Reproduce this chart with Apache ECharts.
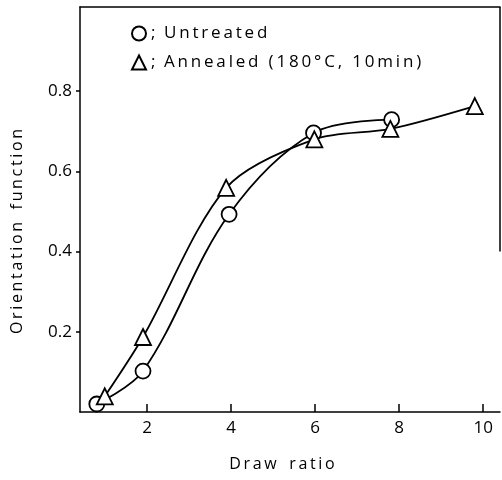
<!DOCTYPE html>
<html><head><meta charset="utf-8">
<script src="https://cdn.jsdelivr.net/npm/echarts@6/dist/echarts.min.js"></script>
<style>html,body{margin:0;padding:0;background:#fff}#c{width:502px;height:480px}</style>
</head><body><div id="c"></div>
<script>
const untreatedX = [0.8, 1.9, 3.95, 5.96, 7.82];
const untreatedY = [0.02, 0.102, 0.493, 0.696, 0.729];
const annealedX = [0.99, 1.9, 3.88, 5.98, 7.79, 9.8];
const annealedY = [0.039, 0.187, 0.559, 0.68, 0.706, 0.763];
const xTicks = [2, 4, 6, 8, 10];
const yTicks = [0.2, 0.4, 0.6, 0.8];
const seriesNames = ['Untreated', 'Annealed (180°C, 10min)'];
const xMin = 0.4, xMax = 10.4, yMin = 0, yMax = 1.01;

const font = '"Open Sans", sans-serif';
const sp = s => s.split('').join('\u2009');
const chart = echarts.init(document.getElementById('c'));
const pts = (xs, ys) => xs.map((x, i) => [x, ys[i]]);
chart.setOption({
  animation: false,
  backgroundColor: '#fff',
  grid: {left: 80, right: 2, top: 7, bottom: 68},
  legend: {
    orient: 'vertical', left: 126, top: 20, itemGap: 12,
    itemWidth: 14, itemHeight: 14,
    data: [{name: seriesNames[0], icon: 'circle'}, {name: seriesNames[1], icon: 'triangle'}],
    formatter: n => ';\u2009\u2009\u2009' + sp(n),
    textStyle: {color: '#000', fontSize: 17, fontFamily: font, padding: [0,0,0,0]}
  },
  xAxis: [{
    type: 'value', min: xMin, max: xMax,
    name: sp('Draw') + '   ' + sp('ratio'), nameLocation: 'middle', nameGap: 44,
    nameTextStyle: {color: '#000', fontSize: 16, fontFamily: font, padding: [0, 16, 0, 0]},
    axisLine: {lineStyle: {color: '#000', width: 1.5}},
    axisTick: {inside: true, length: 8, customValues: xTicks, lineStyle: {color: '#000', width: 1.5}},
    axisLabel: {customValues: xTicks, color: '#000', fontSize: 17, fontFamily: font, margin: 8},
    splitLine: {show: false}
  }, {
    type: 'value', position: 'top', min: xMin, max: xMax,
    axisLine: {show: true, lineStyle: {color: '#000', width: 1.5}},
    axisTick: {show: false}, axisLabel: {show: false}, splitLine: {show: false}
  }],
  yAxis: {
    type: 'value', min: yMin, max: yMax,
    name: sp('Orientation') + '   ' + sp('function'), nameLocation: 'middle', nameGap: 55,
    nameTextStyle: {color: '#000', fontSize: 16, fontFamily: font, padding: [0, 44, 0, 0]},
    axisLine: {lineStyle: {color: '#000', width: 1.5}},
    axisTick: {length: 4, customValues: yTicks, lineStyle: {color: '#000', width: 1.5}},
    axisLabel: {customValues: yTicks, color: '#000', fontSize: 17, fontFamily: font, margin: 8,
      formatter: v => v.toFixed(1)},
    splitLine: {show: false}
  },
  series: [{
    name: seriesNames[0], type: 'line', data: pts(untreatedX, untreatedY),
    smooth: 0.35, symbol: 'circle', symbolSize: 15,
    lineStyle: {color: '#000', width: 1.8},
    itemStyle: {color: '#fff', borderColor: '#000', borderWidth: 1.8}
  }, {
    name: seriesNames[1], type: 'line', data: pts(annealedX, annealedY),
    smooth: 0.3, symbol: 'triangle', symbolSize: 16,
    lineStyle: {color: '#000', width: 1.8},
    itemStyle: {color: '#fff', borderColor: '#000', borderWidth: 1.8},
    markLine: {silent: true, symbol: 'none', label: {show: false},
      lineStyle: {color: '#000', width: 1.5, type: 'solid'},
      data: [[{coord: [xMax, 0.4]}, {coord: [xMax, yMax]}]]}
  }]
});
</script></body></html>
